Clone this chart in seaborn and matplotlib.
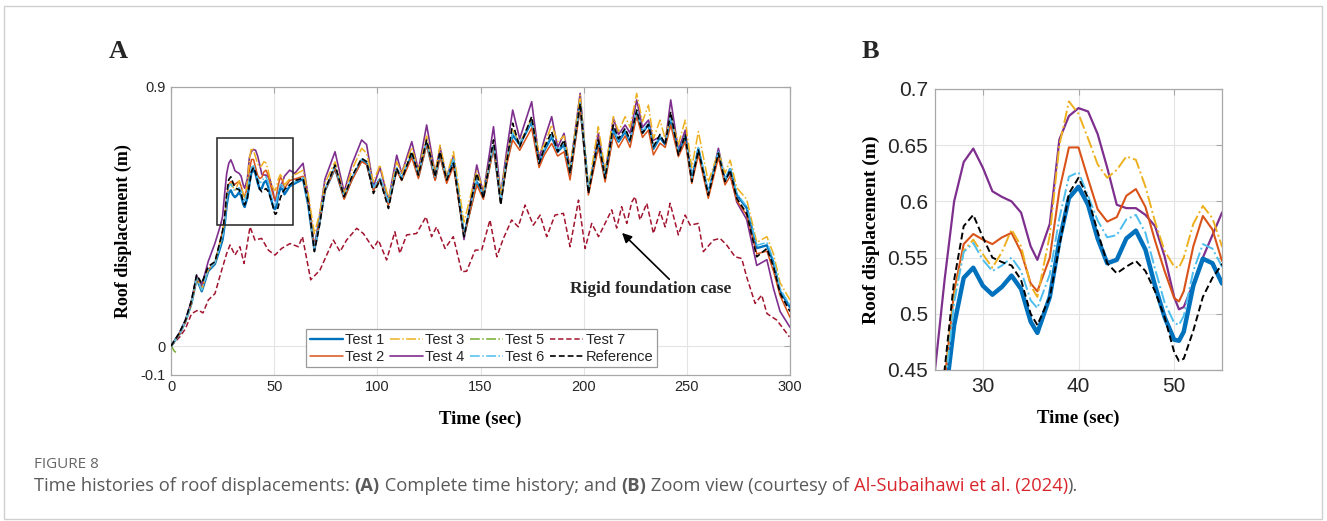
import numpy as np
import pandas as pd
import matplotlib
matplotlib.use("Agg")
import matplotlib.pyplot as plt
import seaborn as sns
from matplotlib.patches import Rectangle

sns.set_theme(style="white")
plt.rcParams['font.family'] = ['Liberation Sans', 'DejaVu Sans']

# ---------------- data ----------------
TIME = [0, 4, 7, 10, 12.4, 14.9, 18, 21.3, 24,
        25, 26, 27, 28, 29, 30, 31, 32, 33, 34, 35, 35.7, 37, 38, 39, 40, 41, 42, 43, 44,
        45, 46, 47, 48, 49, 50, 50.5, 51, 52, 53, 54, 55,
        57.5, 60, 64, 66.5, 69.5, 72, 74.6, 79.5, 83.9, 87.6,
        92.4, 94.8, 98.1, 101.3, 105.4, 109.4, 111.8, 116.7, 119.9, 123.9,
        128, 130.4, 133.6, 136.9, 142, 148.2, 151.4, 156.3, 159.8, 162.7,
        165.6, 169, 174.8, 178.4, 181, 184.5, 187.4, 190.5, 193.4, 198.3,
        202.3, 207.1, 210.4, 214.4, 216.9, 220.1, 222.5, 225.7, 228.5, 231.4,
        233.8, 237.0, 239.5, 242.2, 245.9, 249.2, 252.4, 255.6, 260.4, 265.3,
        268.5, 271, 274.2, 279, 283.9, 288.8, 292, 295.2, 300]

TEST1 = [0, 0.04, 0.085, 0.15, 0.235, 0.19, 0.26, 0.285, 0.345,
         0.37, 0.42, 0.49, 0.532, 0.541, 0.525, 0.517, 0.524, 0.534, 0.522, 0.493, 0.483, 0.515,
         0.565, 0.603, 0.613, 0.597, 0.567, 0.545, 0.548, 0.567, 0.574, 0.557, 0.525, 0.497,
         0.477, 0.476, 0.484, 0.525, 0.549, 0.545, 0.527,
         0.555, 0.565, 0.58, 0.49, 0.335, 0.43, 0.54, 0.617, 0.515, 0.58,
         0.645, 0.635, 0.545, 0.58, 0.495, 0.615, 0.58, 0.665, 0.59, 0.705,
         0.58, 0.665, 0.575, 0.645, 0.385, 0.57, 0.52, 0.695, 0.505, 0.64,
         0.733, 0.70, 0.78, 0.635, 0.68, 0.727, 0.675, 0.70, 0.595, 0.84,
         0.54, 0.704, 0.585, 0.75, 0.71, 0.745, 0.71, 0.81, 0.74, 0.77,
         0.685, 0.725, 0.70, 0.79, 0.67, 0.725, 0.58, 0.685, 0.53, 0.67,
         0.575, 0.615, 0.525, 0.48, 0.34, 0.35, 0.29, 0.19, 0.135]

TEST2 = [0, 0.04, 0.085, 0.15, 0.235, 0.20, 0.265, 0.29, 0.37,
         0.40, 0.44, 0.52, 0.562, 0.571, 0.566, 0.562, 0.568, 0.572, 0.555, 0.527, 0.520, 0.550,
         0.610, 0.648, 0.648, 0.620, 0.593, 0.582, 0.586, 0.605, 0.611, 0.595, 0.565, 0.538,
         0.514, 0.511, 0.520, 0.560, 0.587, 0.575, 0.547,
         0.575, 0.58, 0.59, 0.50, 0.34, 0.43, 0.54, 0.617, 0.51, 0.575,
         0.641, 0.63, 0.54, 0.58, 0.49, 0.61, 0.575, 0.655, 0.582, 0.70,
         0.575, 0.66, 0.565, 0.625, 0.38, 0.56, 0.51, 0.687, 0.50, 0.63,
         0.716, 0.68, 0.757, 0.62, 0.665, 0.704, 0.66, 0.675, 0.577, 0.83,
         0.525, 0.69, 0.57, 0.733, 0.69, 0.73, 0.69, 0.80, 0.725, 0.75,
         0.664, 0.705, 0.69, 0.768, 0.658, 0.71, 0.565, 0.665, 0.513, 0.655,
         0.56, 0.59, 0.505, 0.455, 0.32, 0.33, 0.26, 0.175, 0.10]

TEST3 = [0, 0.04, 0.085, 0.15, 0.235, 0.195, 0.265, 0.29, 0.36,
         0.39, 0.44, 0.515, 0.556, 0.566, 0.553, 0.541, 0.555, 0.575, 0.560, 0.525, 0.515, 0.570,
         0.650, 0.689, 0.678, 0.656, 0.633, 0.621, 0.628, 0.640, 0.637, 0.613, 0.582, 0.556,
         0.542, 0.541, 0.550, 0.580, 0.596, 0.585, 0.560,
         0.58, 0.595, 0.611, 0.53, 0.39, 0.46, 0.565, 0.64, 0.53, 0.61,
         0.687, 0.67, 0.57, 0.63, 0.51, 0.64, 0.60, 0.69, 0.61, 0.73,
         0.60, 0.698, 0.59, 0.675, 0.43, 0.61, 0.54, 0.70, 0.53, 0.658,
         0.75, 0.705, 0.79, 0.67, 0.70, 0.768, 0.71, 0.73, 0.62, 0.872,
         0.55, 0.762, 0.61, 0.797, 0.745, 0.797, 0.76, 0.878, 0.78, 0.837,
         0.72, 0.785, 0.72, 0.80, 0.70, 0.785, 0.62, 0.745, 0.57, 0.675,
         0.60, 0.646, 0.55, 0.51, 0.36, 0.38, 0.32, 0.22, 0.16]

TEST4 = [0, 0.045, 0.09, 0.16, 0.245, 0.21, 0.293, 0.357, 0.42,
         0.45, 0.53, 0.60, 0.635, 0.647, 0.630, 0.609, 0.604, 0.600, 0.590, 0.560, 0.548, 0.580,
         0.655, 0.676, 0.683, 0.680, 0.660, 0.630, 0.597, 0.594, 0.594, 0.588, 0.578, 0.551,
         0.515, 0.504, 0.506, 0.527, 0.550, 0.570, 0.590,
         0.611, 0.60, 0.635, 0.52, 0.345, 0.45, 0.58, 0.675, 0.535, 0.63,
         0.716, 0.70, 0.555, 0.62, 0.507, 0.663, 0.60, 0.71, 0.61, 0.768,
         0.60, 0.69, 0.585, 0.66, 0.37, 0.629, 0.53, 0.762, 0.525, 0.68,
         0.820, 0.72, 0.849, 0.65, 0.72, 0.797, 0.69, 0.739, 0.615, 0.878,
         0.535, 0.739, 0.60, 0.791, 0.735, 0.768, 0.74, 0.855, 0.76, 0.785,
         0.715, 0.727, 0.705, 0.855, 0.68, 0.75, 0.58, 0.681, 0.53, 0.687,
         0.58, 0.60, 0.50, 0.44, 0.28, 0.30, 0.20, 0.12, 0.065]

TEST6 = [0, 0.04, 0.085, 0.15, 0.24, 0.195, 0.265, 0.29, 0.355,
         0.38, 0.43, 0.51, 0.555, 0.563, 0.548, 0.538, 0.543, 0.550, 0.538, 0.512, 0.505, 0.535,
         0.585, 0.622, 0.626, 0.605, 0.583, 0.568, 0.570, 0.584, 0.588, 0.572, 0.540, 0.510,
         0.492, 0.490, 0.498, 0.538, 0.562, 0.558, 0.542,
         0.56, 0.57, 0.585, 0.495, 0.34, 0.43, 0.545, 0.625, 0.52, 0.585,
         0.65, 0.64, 0.55, 0.585, 0.50, 0.62, 0.585, 0.67, 0.595, 0.71,
         0.585, 0.67, 0.58, 0.65, 0.39, 0.58, 0.52, 0.70, 0.51, 0.645,
         0.74, 0.705, 0.785, 0.64, 0.685, 0.735, 0.68, 0.705, 0.60, 0.845,
         0.545, 0.71, 0.59, 0.755, 0.715, 0.75, 0.715, 0.815, 0.745, 0.775,
         0.69, 0.73, 0.705, 0.795, 0.675, 0.73, 0.585, 0.69, 0.535, 0.675,
         0.58, 0.62, 0.53, 0.485, 0.35, 0.36, 0.30, 0.20, 0.14]

REFERENCE = [0, 0.045, 0.09, 0.16, 0.247, 0.218, 0.276, 0.293, 0.37,
             0.40, 0.45, 0.53, 0.578, 0.588, 0.568, 0.550, 0.546, 0.543, 0.530, 0.500, 0.490, 0.515,
             0.560, 0.607, 0.621, 0.603, 0.573, 0.545, 0.536, 0.542, 0.547, 0.538, 0.520, 0.497,
             0.466, 0.458, 0.460, 0.485, 0.515, 0.532, 0.544,
             0.56, 0.575, 0.583, 0.50, 0.328, 0.42, 0.542, 0.629, 0.519, 0.588,
             0.652, 0.641, 0.530, 0.577, 0.478, 0.617, 0.577, 0.675, 0.594, 0.716,
             0.588, 0.675, 0.577, 0.635, 0.380, 0.600, 0.513, 0.716, 0.490, 0.640,
             0.774, 0.692, 0.797, 0.634, 0.690, 0.745, 0.675, 0.716, 0.600, 0.843,
             0.530, 0.716, 0.583, 0.768, 0.720, 0.756, 0.716, 0.820, 0.740, 0.770,
             0.692, 0.735, 0.700, 0.814, 0.664, 0.733, 0.571, 0.681, 0.524, 0.670,
             0.571, 0.611, 0.513, 0.461, 0.310, 0.339, 0.276, 0.183, 0.12]

TIME5 = [0, 0.8, 1.6, 2.4]
TEST5 = [0.005, -0.008, -0.018, -0.022]

TIME7 = [0, 4.3, 7, 10, 13.2, 15.5, 18.1, 21.3, 24, 27,
         28.6, 31, 33.4, 35.4, 38.3, 40.7, 43.9, 47.2, 50.4, 53.6,
         57.7, 61.7, 63.7, 67.7, 72.2, 78.7, 81.9, 85.1, 90, 93.2,
         98.1, 100.5, 104.5, 108.5, 110.9, 114.2, 119, 123.6, 126.3, 128.7,
         132.8, 136.8, 140.9, 143.3, 147.4, 150.6, 154.6, 157.9, 161.1, 165.1,
         168.3, 171.6, 175.6, 178.9, 182.1, 186.1, 190.2, 193.4, 197.5, 200.7,
         203.9, 207.2, 211.2, 213.6, 216, 218.4, 220.9, 223.3, 224.9, 227.3,
         230.6, 233.8, 237, 239.5, 241.9, 245.9, 249.2, 251.6, 255.6, 258,
         262.9, 266.1, 269.3, 273.4, 276.6, 279, 283.1, 286.3, 288.8, 293.6, 299.7]
TEST7 = [0, 0.032, 0.06, 0.113, 0.125, 0.115, 0.160, 0.182, 0.25, 0.322,
         0.351, 0.316, 0.345, 0.287, 0.414, 0.368, 0.374, 0.333, 0.316, 0.339,
         0.356, 0.345, 0.380, 0.230, 0.264, 0.368, 0.328, 0.368, 0.409, 0.391,
         0.339, 0.368, 0.299, 0.397, 0.322, 0.386, 0.391, 0.449, 0.380, 0.414,
         0.339, 0.380, 0.258, 0.26, 0.333, 0.334, 0.438, 0.310, 0.374, 0.438,
         0.414, 0.490, 0.420, 0.455, 0.380, 0.455, 0.461, 0.345, 0.507, 0.339,
         0.426, 0.380, 0.438, 0.473, 0.41, 0.484, 0.426, 0.50, 0.519, 0.438,
         0.496, 0.391, 0.467, 0.414, 0.496, 0.386, 0.455, 0.420, 0.426, 0.328,
         0.368, 0.374, 0.351, 0.310, 0.304, 0.240, 0.148, 0.177, 0.113, 0.090, 0.032]

SERIES = ["Test 1", "Test 2", "Test 3", "Test 4", "Test 5", "Test 6", "Test 7", "Reference"]
X_TICKS_A = [0, 50, 100, 150, 200, 250, 300]
Y_TICKS_A = [-0.1, 0, 0.9]
X_TICKS_B = [30, 40, 50]
Y_TICKS_B = [0.45, 0.5, 0.55, 0.6, 0.65, 0.7]
Y_TICKLABELS_B = ["0.45", "0.5", "0.55", "0.6", "0.65", "0.7"]
ZOOM_BOX = (22.5, 0.42, 59.0, 0.724)   # t0, v0, t1, v1
ANNOT_TEXT = "Rigid foundation case"
ANNOT_TIP = (218.6, 0.393)
ANNOT_TAIL = (241.5, 0.232)
ANNOT_POS = (232.5, 0.198)

# ---------------- tidy frame ----------------
parts = []
for name, t, v in [("Test 1", TIME, TEST1), ("Test 2", TIME, TEST2), ("Test 3", TIME, TEST3),
                   ("Test 4", TIME, TEST4), ("Test 5", TIME5, TEST5), ("Test 6", TIME, TEST6),
                   ("Test 7", TIME7, TEST7), ("Reference", TIME, REFERENCE)]:
    assert len(t) == len(v), name
    parts.append(pd.DataFrame({"t": t, "v": v, "series": name}))
df = pd.concat(parts, ignore_index=True)

STYLE = {
    "Test 1":    dict(color="#0072BD", ls="-",  lwA=1.7, lwB=3.2, z=3),
    "Test 2":    dict(color="#D95319", ls="-",  lwA=1.1, lwB=1.5, z=4),
    "Test 3":    dict(color="#EDB120", ls="-.", lwA=1.1, lwB=1.4, z=5),
    "Test 4":    dict(color="#7E2F8E", ls="-",  lwA=1.2, lwB=1.6, z=2),
    "Test 5":    dict(color="#77AC30", ls="-.", lwA=1.1, lwB=1.4, z=1),
    "Test 6":    dict(color="#4DBEEE", ls="-.", lwA=1.1, lwB=1.4, z=6),
    "Test 7":    dict(color="#A2142F", ls=(0, (3.5, 1.8)), lwA=1.1, lwB=1.4, z=2),
    "Reference": dict(color="#000000", ls=(0, (3.5, 1.8)), lwA=1.2, lwB=1.4, z=7),
}

W, H = 1327, 521
fig = plt.figure(figsize=(W / 100, H / 100), dpi=100)
fig.patch.set_facecolor("white")

axA = fig.add_axes([171 / W, 1 - 374.8 / H, 619 / W, 287.8 / H])
axB = fig.add_axes([935 / W, 1 - 370 / H, 287 / W, 281 / H])

for name in SERIES:
    sub = df[df["series"] == name]
    st = STYLE[name]
    sns.lineplot(data=sub, x="t", y="v", ax=axA, color=st["color"], linestyle=st["ls"],
                 linewidth=st["lwA"], label=name, errorbar=None, sort=False, zorder=st["z"])
    sns.lineplot(data=sub, x="t", y="v", ax=axB, color=st["color"], linestyle=st["ls"],
                 linewidth=st["lwB"], legend=False, errorbar=None, sort=False, zorder=st["z"])

spine_c = "#a8a8a8"
tick_c = "#262626"
grid_c = "#e4e4e4"
serif = ["Liberation Serif", "DejaVu Serif"]

for ax in (axA, axB):
    for s in ax.spines.values():
        s.set_color(spine_c)
        s.set_linewidth(0.9)
        s.set_visible(True)
    ax.tick_params(direction="in", top=True, right=True, color=spine_c, length=4,
                   labelcolor=tick_c, width=0.8)
    ax.grid(True, color=grid_c, linewidth=0.8)
    ax.set_axisbelow(True)

# Panel A
axA.set_xlim(0, 300)
axA.set_ylim(-0.1, 0.9)
axA.set_xticks(X_TICKS_A)
axA.set_yticks(Y_TICKS_A)
axA.set_yticklabels(["-0.1", "0", "0.9"])
axA.tick_params(labelsize=10.5, pad=4)
axA.grid(False, axis="y")
axA.axhline(0, color=grid_c, lw=0.8, zorder=0)
axA.set_xlabel("Time (sec)", family=serif, fontweight="bold", fontsize=13.5, color="black", labelpad=12)
axA.set_ylabel("Roof displacement (m)", family=serif, fontweight="bold", fontsize=13, color="black", labelpad=6)

t0, v0, t1, v1 = ZOOM_BOX
axA.add_patch(Rectangle((t0, v0), t1 - t0, v1 - v0, fill=False, ec="#222222", lw=1.1, zorder=9))

axA.text(ANNOT_POS[0], ANNOT_POS[1], ANNOT_TEXT, ha="center", va="center", family=serif,
         fontweight="bold", fontsize=12.5, zorder=10)
axA.annotate("", xy=ANNOT_TIP, xytext=ANNOT_TAIL,
             arrowprops=dict(arrowstyle="-|>", color="black", lw=1.2, mutation_scale=14,
                             shrinkA=0, shrinkB=0))

handles, labels = axA.get_legend_handles_labels()
leg = axA.legend(handles, labels, ncol=4, loc="lower left", bbox_to_anchor=(0.218, 0.026),
                 fontsize=10.5, frameon=True, fancybox=False, framealpha=1, edgecolor="#9a9a9a",
                 handlelength=2.3, handletextpad=0.15, columnspacing=0.35, labelspacing=0.2,
                 borderpad=0.25, borderaxespad=0)
leg.get_frame().set_linewidth(0.9)
for txt in leg.get_texts():
    txt.set_color(tick_c)

# Panel B
axB.set_xlim(25, 55)
axB.set_ylim(0.45, 0.7)
axB.set_xticks(X_TICKS_B)
axB.set_yticks(Y_TICKS_B)
axB.set_yticklabels(Y_TICKLABELS_B)
axB.tick_params(labelsize=15, pad=5)
axB.set_xlabel("Time (sec)", family=serif, fontweight="bold", fontsize=13.5, color="black", labelpad=10)
axB.set_ylabel("Roof displacement (m)", family=serif, fontweight="bold", fontsize=14, color="black", labelpad=5)

# panel letters
fig.text(118 / W, 1 - 52 / H, "A", family=serif, fontweight="bold", fontsize=19, ha="center", va="center")
fig.text(870 / W, 1 - 52 / H, "B", family=serif, fontweight="bold", fontsize=19, ha="center", va="center")

# outer frame
fig.patches.append(Rectangle((4 / W, 2 / H), (W - 9) / W, (H - 8) / H, transform=fig.transFigure,
                             fill=False, ec="#d0d0d0", lw=1.0))

# caption
cap_font = ["Open Sans", "DejaVu Sans"]
cap_col = "#5a5a5a"
CAP_X = 34.0
fig.text(CAP_X / W, 1 - 468 / H, "FIGURE 8", family=cap_font, fontsize=11, color="#666666",
         va="baseline", ha="left")

renderer = fig.canvas.get_renderer()

def text_width(s, **kw):
    a = fig.text(0, 0, "|" + s + "|", **kw)
    b = fig.text(0, 0, "||", **kw)
    w = a.get_window_extent(renderer).width - b.get_window_extent(renderer).width
    a.remove(); b.remove()
    return w

runs = [
    ("Time histories of roof displacements: ", dict(color=cap_col)),
    ("(A)", dict(color=cap_col, fontweight="bold")),
    (" Complete time history; and ", dict(color=cap_col)),
    ("(B)", dict(color=cap_col, fontweight="bold")),
    (" Zoom view (courtesy of ", dict(color=cap_col)),
    ("Al-Subaihawi et al. (2024)", dict(color="#d9262c")),
    (").", dict(color=cap_col)),
]
x = CAP_X
ybase = 1 - 491 / H
for s, kw in runs:
    kw = dict(kw, family=cap_font, fontsize=13.2)
    fig.text(x / W, ybase, s, va="baseline", ha="left", **kw)
    x += text_width(s, **kw)

fig.savefig("out.png", dpi=100, facecolor="white")
